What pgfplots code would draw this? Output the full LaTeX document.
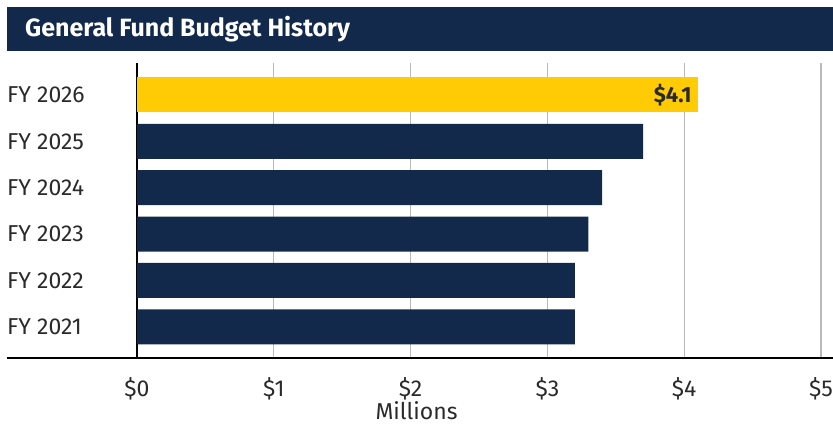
\documentclass[border=0pt]{standalone}
\usepackage{fontspec}
\setmainfont{Fira Sans}
\usepackage{pgfplots}
\pgfplotsset{compat=1.18}
\definecolor{navy}{HTML}{12294C}
\definecolor{gold}{HTML}{FFCB05}
\definecolor{gridgray}{HTML}{BDB8B3}
\definecolor{txt}{HTML}{2A2A2A}
\begin{document}
\begin{tikzpicture}[x=1pt,y=1pt]
\useasboundingbox (0,0) rectangle (833,424);
\fill[navy] (7,373) rectangle (840,417);
\node[anchor=west, text=white, font=\bfseries\fontsize{25}{30}\selectfont, inner sep=0] at (25,395) {General Fund Budget History};
\begin{axis}[
  at={(137pt,67pt)}, anchor=south west,
  scale only axis, width=684pt, height=294pt,
  xbar, bar width=0.755, bar shift=0pt,
  xmin=0, xmax=5, ymin=-0.65, ymax=5.69,
  axis x line*=bottom, axis y line*=left,
  x axis line style={draw=none},
  y axis line style={black, line width=1.5pt},
  major tick length=0pt,
  xmajorgrids, grid style={gridgray, line width=1.3pt},
  xtick={0,1,2,3,4,5},
  xticklabels={\$0,\$1,\$2,\$3,\$4,\$5},
  xticklabel style={anchor=base, yshift=-39pt, inner sep=0pt, text=txt, font=\fontsize{23}{27}\selectfont},
  ytick={0,1,2,3,4,5},
  yticklabels={FY 2021,FY 2022,FY 2023,FY 2024,FY 2025,FY 2026},
  yticklabel style={anchor=west, xshift=-130pt, inner sep=0pt, text=txt, font=\fontsize{23}{27}\selectfont},
  clip=false,
]
\addplot[fill=navy, draw=none] coordinates {(3.2,0) (3.2,1) (3.3,2) (3.4,3) (3.7,4)};
\addplot[fill=gold, draw=none,
  nodes near coords={\$4.1},
  every node near coord/.append style={anchor=east, xshift=-6pt, inner sep=0pt, text=txt, font=\bfseries\fontsize{22}{26}\selectfont}]
  coordinates {(4.1,5)};
\end{axis}
\draw[black, line width=2pt] (7,66) -- (840,66);
\node[anchor=base, inner sep=0pt, text=txt, font=\fontsize{23}{27}\selectfont] at (416.5,5) {Millions};
\end{tikzpicture}
\end{document}
